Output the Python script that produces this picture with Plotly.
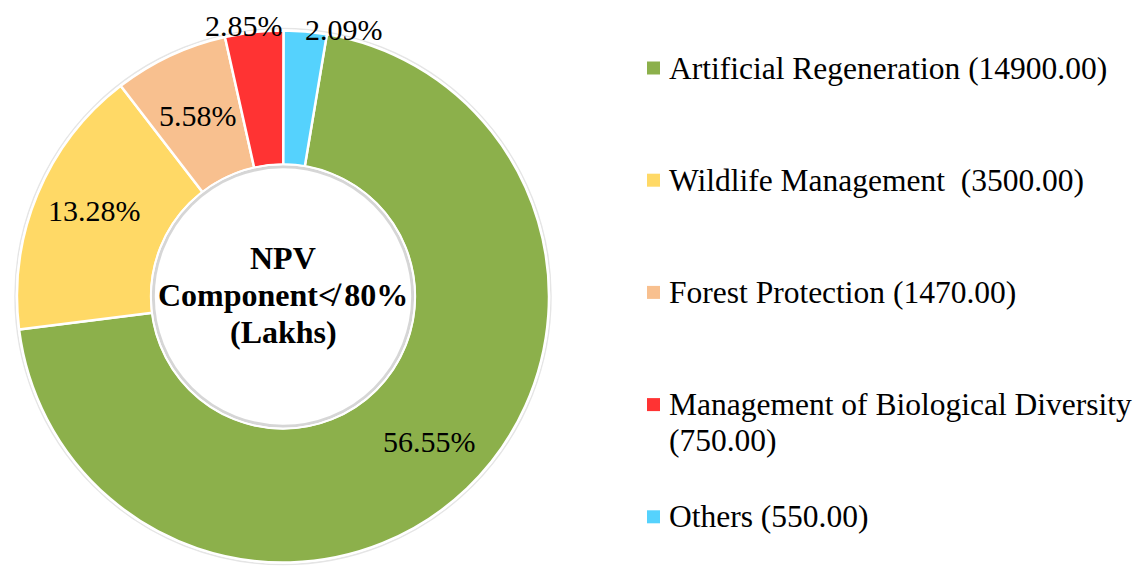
import math
import plotly.graph_objects as go

# ---------------- data ----------------
categories = ["Artificial Regeneration", "Wildlife Management\u00a0", "Forest Protection",
              "Management of Biological Diversity", "Others"]
values = [14900.00, 3500.00, 1470.00, 750.00, 550.00]
percent_labels = ["56.55%", "13.28%", "5.58%", "2.85%", "2.09%"]
colors = ["#8CB04B", "#FFD966", "#F8C08F", "#FF3333", "#55D2FD"]
center_title = ["NPV", "Component\u226e 80%", "(Lakhs)"]

# ---------------- layout constants (page pixel coords) ----------------
W, H = 1142, 567
OFF = 8                       # browser body margin
CX, CY, R = 283, 296.5, 266
HOLE = 0.495
ROTATION = 9.5
FONT = "Liberation Serif, Times New Roman, serif"

# percent label placement: radius factor and angle nudge (deg)
label_rf = [0.775, 0.78, 0.75, 1.03, 1.03]
label_da = [-1.5, 2.0, 0.0, -2.0, 8.0]
PCT_FS = 30

# center title lines (y centers) and font
TITLE_Y = [258, 295, 332]
TITLE_FS = 32

# legend placement
LEG_MX, LEG_TX, LEG_Y0, LEG_DY, LEG_SQ = 647, 667, 68, 112.2, 13
LEG_FS = 31.5
LEG_LINE_DY = 36
WRAP_AT = 36


def px(x, y):
    return (x - OFF) / W, 1 - (y - OFF) / H


dx0, dy1 = px(CX - R, CY - R)
dx1, dy0 = px(CX + R, CY + R)
fig = go.Figure(go.Pie(
    labels=categories, values=values, hole=HOLE, sort=False,
    direction="clockwise", rotation=ROTATION,
    marker=dict(colors=colors, line=dict(color="white", width=2.5)),
    textinfo="none", hoverinfo="label+value", showlegend=False,
    domain=dict(x=[dx0, dx1], y=[dy0, dy1]),
))

annotations = []
shapes = []

# percent labels at slice mid-angles
total = sum(values)
start = ROTATION
for i, v in enumerate(values):
    span = 360.0 * v / total
    mid = math.radians(start + span / 2 + label_da[i])
    r = R * label_rf[i]
    x, y = px(CX + r * math.sin(mid), CY - r * math.cos(mid))
    annotations.append(dict(x=x, y=y, xref="paper", yref="paper", text=percent_labels[i],
                            showarrow=False, font=dict(family=FONT, size=PCT_FS, color="black"),
                            xanchor="center", yanchor="middle"))
    start += span

# hole shadow
ri = R * HOLE
for rr, col, wd in [(ri - 2, "rgba(0,0,0,0.16)", 3), (ri + 0.5, "white", 2)]:
    x0, y1 = px(CX - rr, CY - rr)
    x1, y0 = px(CX + rr, CY + rr)
    shapes.append(dict(type="circle", xref="paper", yref="paper", x0=x0, x1=x1, y0=y0, y1=y1,
                       line=dict(color=col, width=wd)))
# faint outer shadow
ro = R + 2
x0, y1 = px(CX - ro, CY - ro)
x1, y0 = px(CX + ro, CY + ro)
shapes.append(dict(type="circle", xref="paper", yref="paper", x0=x0, x1=x1, y0=y0, y1=y1,
                   line=dict(color="rgba(0,0,0,0.10)", width=1.5), layer="below"))

# center title, one annotation per line
for line, ty in zip(center_title, TITLE_Y):
    tx_, ty_ = px(CX, ty)
    annotations.append(dict(x=tx_, y=ty_, xref="paper", yref="paper",
                            text="<b>" + line + "</b>", showarrow=False,
                            font=dict(family=FONT, size=TITLE_FS, color="black"),
                            xanchor="center", yanchor="middle"))

# manual legend
for i, (cat, v) in enumerate(zip(categories, values)):
    label = f"{cat} ({v:.2f})"
    lines = [label] if len(label) <= WRAP_AT else [cat, f"({v:.2f})"]
    yc = LEG_Y0 + i * LEG_DY
    x0, y1 = px(LEG_MX, yc - LEG_SQ / 2)
    x1, y0 = px(LEG_MX + LEG_SQ, yc + LEG_SQ / 2)
    shapes.append(dict(type="rect", xref="paper", yref="paper", x0=x0, x1=x1, y0=y0, y1=y1,
                       fillcolor=colors[i], line=dict(width=0)))
    for k, ln in enumerate(lines):
        tx, ty = px(LEG_TX, yc + k * LEG_LINE_DY)
        annotations.append(dict(x=tx, y=ty, xref="paper", yref="paper", text=ln, showarrow=False,
                                font=dict(family=FONT, size=LEG_FS, color="black"),
                                xanchor="left", yanchor="middle", align="left"))

fig.update_layout(
    width=W, height=H, margin=dict(l=0, r=0, t=0, b=0),
    paper_bgcolor="white", plot_bgcolor="white",
    annotations=annotations, shapes=shapes, showlegend=False,
)

fig.write_html("out.html")
